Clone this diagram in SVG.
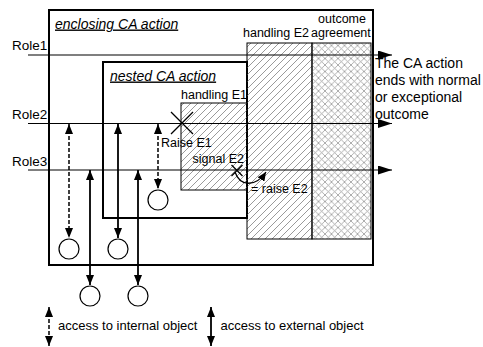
<svg xmlns="http://www.w3.org/2000/svg" width="483" height="347" viewBox="0 0 483 347">
  <style>
    .t { font-family: "Liberation Sans", Arial, sans-serif; fill: #000; }
    .title { font-size: 14px; font-style: italic; text-decoration: underline; }
    .role { font-size: 13.5px; }
    .lbl { font-size: 12.5px; }
    .big { font-size: 14px; }
    .leg { font-size: 13px; }
    .box { fill: #fff; stroke: #000; stroke-width: 2; }
    .thin { stroke: #000; stroke-width: 1; }
    .roleline { stroke: #000; stroke-width: 1.2; fill: none; marker-end: url(#bigArrow); }
    .acc { stroke: #000; stroke-width: 1.8; fill: none; marker-start: url(#arr); marker-end: url(#arr); }
    .int { stroke-dasharray: 4 2; stroke-width: 1.5; }
    .obj { fill: #fff; stroke: #000; stroke-width: 1.2; }
    .cross { stroke: #000; stroke-width: 1.3; }
  </style>
  <defs>
    <pattern id="hatch" patternUnits="userSpaceOnUse" width="7" height="7">
      <path d="M-1,1 L1,-1 M0,7 L7,0 M6,8 L8,6" stroke="#808080" stroke-width="0.8"/>
    </pattern>
    <pattern id="xhatch" patternUnits="userSpaceOnUse" width="6.5" height="6.5">
      <path d="M0,0 L6.5,6.5 M6.5,0 L0,6.5" stroke="#999" stroke-width="0.8"/>
    </pattern>
    <marker id="arr" markerUnits="userSpaceOnUse" markerWidth="10" markerHeight="8" refX="10" refY="4" orient="auto-start-reverse">
      <path d="M0,0 L10,4 L0,8 z" fill="#000"/>
    </marker>
    <marker id="bigArrow" markerUnits="userSpaceOnUse" markerWidth="14" markerHeight="9" refX="14" refY="4.5" orient="auto">
      <path d="M0,0 L14,4.5 L0,9 z" fill="#000"/>
    </marker>
    <marker id="curveArrow" markerUnits="userSpaceOnUse" markerWidth="9" markerHeight="8" refX="9" refY="4" orient="auto">
      <path d="M0,0 L9,4 L0,8 z" fill="#000"/>
    </marker>
  </defs>

  <!-- enclosing CA action -->
  <g id="enclosing">
    <rect class="box" x="49" y="10" width="324" height="255"/>
    <text class="t title" x="55" y="28.5">enclosing CA action</text>
  </g>

  <!-- nested CA action -->
  <g id="nested">
    <rect class="box" x="103" y="62" width="144" height="156"/>
    <text class="t title" x="110" y="80.5">nested CA action</text>
  </g>

  <!-- exception handling phases -->
  <g id="handlingE2">
    <rect x="247" y="43" width="65" height="196" fill="url(#hatch)" class="thin"/>
    <text class="t lbl" x="243" y="36.5">handling E2</text>
  </g>
  <g id="outcome">
    <rect x="312" y="43" width="59" height="196" fill="url(#xhatch)" class="thin"/>
    <text class="t lbl" x="318" y="23">outcome</text>
    <text class="t lbl" x="311" y="36.5">agreement</text>
  </g>
  <g id="handlingE1">
    <rect x="181" y="103" width="66" height="87" fill="url(#hatch)" class="thin"/>
    <text class="t lbl" x="181" y="99">handling E1</text>
  </g>

  <!-- roles -->
  <g id="role1">
    <text class="t role" x="12" y="50">Role1</text>
  </g>
  <g id="role2">
    <text class="t role" x="12" y="119">Role2</text>
  </g>
  <g id="role3">
    <text class="t role" x="12" y="165.5">Role3</text>
  </g>

  <!-- external and internal objects -->
  <g id="obj1"><circle class="obj" cx="69" cy="249" r="10"/></g>
  <g id="obj2"><circle class="obj" cx="118" cy="249" r="10"/></g>
  <g id="obj3"><circle class="obj" cx="158" cy="200" r="10"/></g>
  <g id="obj4"><circle class="obj" cx="90" cy="296" r="10"/></g>
  <g id="obj5"><circle class="obj" cx="138" cy="296" r="10"/></g>

  <!-- connectors -->
  <g id="connectors">
    <line class="roleline" x1="28" y1="55" x2="392" y2="55"/>
    <line class="roleline" x1="28" y1="123.5" x2="392" y2="123.5"/>
    <line class="roleline" x1="28" y1="170" x2="392" y2="170"/>

    <line class="acc int" x1="69" y1="124" x2="69" y2="238"/>
    <line class="acc" x1="118" y1="124" x2="118" y2="238"/>
    <line class="acc int" x1="158" y1="124" x2="158" y2="189"/>
    <line class="acc" x1="90" y1="170" x2="90" y2="285"/>
    <line class="acc" x1="138" y1="170" x2="138" y2="285"/>

    <!-- raise E1 -->
    <path class="cross" d="M171,112 L193,134 M171,134 L193,112"/>
    <!-- signal E2 -->
    <path class="cross" d="M231.5,165 L242.5,176 M231.5,176 L242.5,165"/>
    <path d="M235,172 C240,187 256,187 266,172" fill="none" stroke="#000" stroke-width="1.3" marker-end="url(#curveArrow)"/>
  </g>

  <!-- event labels -->
  <g id="events">
    <text class="t lbl" x="161" y="146.5">Raise E1</text>
    <text class="t lbl" x="192.5" y="163">signal E2</text>
    <text class="t lbl" x="251" y="193">= raise E2</text>
  </g>

  <!-- outcome note -->
  <g id="note">
    <text class="t big" x="375" y="67.5">The CA action</text>
    <text class="t big" x="375" y="85">ends with normal</text>
    <text class="t big" x="375" y="101.5">or exceptional</text>
    <text class="t big" x="375" y="118.5">outcome</text>
  </g>

  <!-- legend -->
  <g id="legend">
    <line class="acc int" x1="49" y1="307" x2="49" y2="346"/>
    <text class="t leg" x="58" y="330">access to internal object</text>
    <line class="acc" x1="211" y1="307" x2="211" y2="346"/>
    <text class="t leg" x="220.5" y="330">access to external object</text>
  </g>
</svg>
